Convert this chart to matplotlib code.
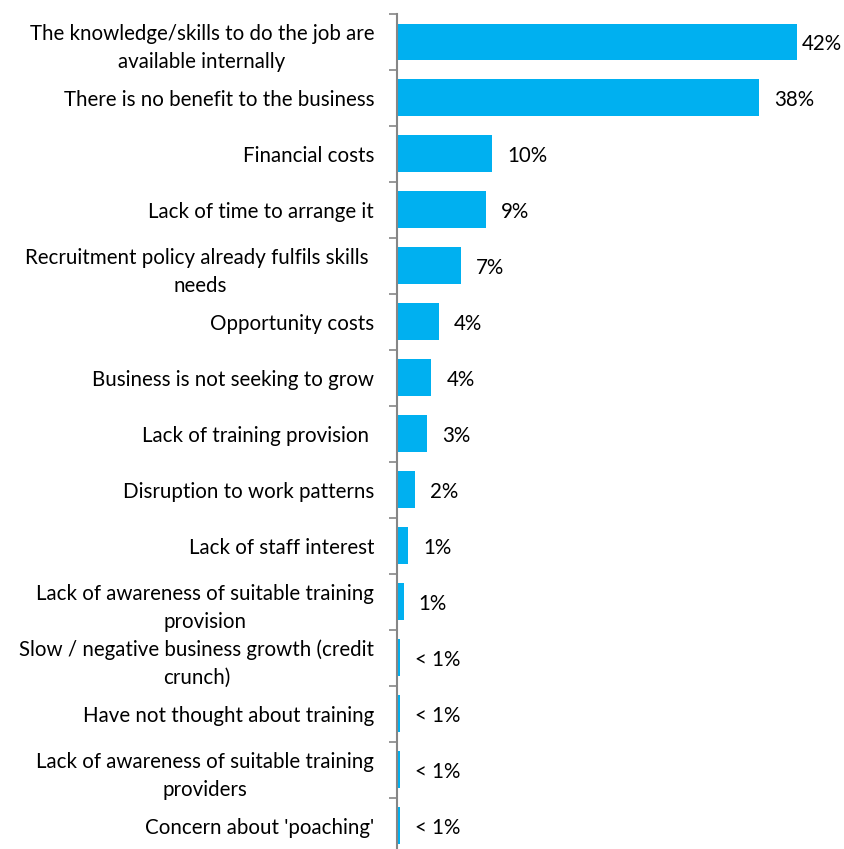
import matplotlib.pyplot as plt
import numpy as np

categories = [
    "The knowledge/skills to do the job are\navailable internally",
    "There is no benefit to the business",
    "Financial costs",
    "Lack of time to arrange it",
    "Recruitment policy already fulfils skills \nneeds",
    "Opportunity costs",
    "Business is not seeking to grow",
    "Lack of training provision ",
    "Disruption to work patterns",
    "Lack of staff interest",
    "Lack of awareness of suitable training\nprovision",
    "Slow / negative business growth (credit\ncrunch)",
    "Have not thought about training",
    "Lack of awareness of suitable training\nproviders",
    "Concern about 'poaching'",
]
values = [42.0, 38.0, 10.0, 9.3, 6.7, 4.4, 3.6, 3.2, 1.9, 1.2, 0.7, 0.3, 0.3, 0.3, 0.3]


def pct_label(v):
    return "< 1%" if v < 0.5 else f"{round(v):.0f}%"


def main():
    plt.rcParams["font.family"] = ["Lato", "DejaVu Sans"]
    bar_color = "#00B0F0"
    axis_color = "#868686"
    fs = 14.8

    n = len(categories)
    y = np.arange(n)
    vals = np.array(values)

    fig = plt.figure(figsize=(8.44, 8.49), dpi=100)
    W, H = 844, 849
    left, right = 397, 825
    top, bottom = 14, 853.5
    ax = fig.add_axes([left / W, (H - bottom) / H, (right - left) / W, (bottom - top) / H])

    ax.barh(y, vals, height=0.66, color=bar_color, zorder=2)
    ax.set_xlim(0, (right - left) / 9.52)
    ax.set_ylim(n - 0.5, -0.5)

    # value labels, the widest one is pulled in to stay inside the frame
    for yi, v in zip(y, vals):
        pad = 5 if v == vals.max() else 15
        ax.annotate(pct_label(v), (v, yi), xytext=(pad * 0.72, -1.5),
                    textcoords="offset points", va="center", ha="left",
                    fontsize=fs, color="#000000", annotation_clip=False)

    # tick marks sit between categories, labels at the bar centres
    ax.set_yticks(np.arange(n + 1) - 0.5)
    ax.set_yticklabels([])
    ax.set_yticks(y, minor=True)
    ax.set_yticklabels(categories, minor=True, fontsize=fs)
    ax.tick_params(axis="y", which="major", length=6, width=1.2, color=axis_color)
    ax.tick_params(axis="y", which="minor", length=0, pad=16.5)
    for t in ax.get_yticklabels(minor=True):
        t.set_multialignment("center")
        t.set_linespacing(1.5)

    ax.set_xticks([])
    for s in ("top", "right", "bottom"):
        ax.spines[s].set_visible(False)
    ax.spines["left"].set_color(axis_color)
    ax.spines["left"].set_linewidth(1.5)

    fig.savefig("out.png", dpi=100)


if __name__ == "__main__":
    main()
